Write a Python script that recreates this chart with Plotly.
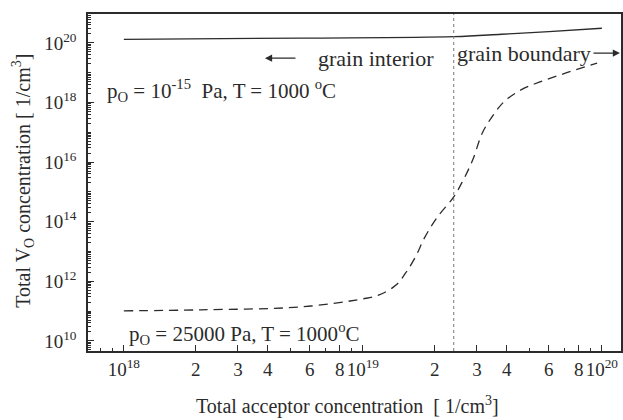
import plotly.graph_objects as go

# ---- data ----
acceptor_dashed = [1.0e18, 2.1e18, 5.5e18, 1.0e19, 1.17e19, 1.38e19, 1.51e19, 1.66e19,
                   1.82e19, 2.04e19, 2.40e19, 2.63e19, 2.88e19, 3.16e19, 3.47e19, 3.89e19,
                   4.57e19, 5.5e19, 7.08e19, 9.55e19]
vo_dashed = [1.02e11, 1.10e11, 1.38e11, 2.57e11, 3.47e11, 7.6e11, 1.9e12, 6.6e12,
             3.1e13, 1.35e14, 6.8e14, 2.5e15, 1.17e16, 9.5e16, 3.3e17, 1.05e18,
             2.6e18, 4.9e18, 9.8e18, 2.1e19]

acceptor_solid = [1.0e18, 5.5e18, 2.4e19, 3.8e19, 6.0e19, 1.0e20]
vo_solid = [1.32e20, 1.45e20, 1.62e20, 1.95e20, 2.4e20, 3.1e20]

boundary_x = 2.4e19

x_tickvals = [1e18, 2e18, 3e18, 4e18, 6e18, 8e18, 1e19, 2e19, 3e19, 4e19, 6e19, 8e19, 1e20]
x_ticktext = ["10<sup>18</sup>", "2", "3", "4", "6", "8", "10<sup>19</sup>",
              "2", "3", "4", "6", "8", "10<sup>20</sup>"]
y_tickvals = [1e10, 1e12, 1e14, 1e16, 1e18, 1e20]
y_ticktext = ["10<sup>10</sup>", "10<sup>12</sup>", "10<sup>14</sup>",
              "10<sup>16</sup>", "10<sup>18</sup>", "10<sup>20</sup>"]

x_title = "Total acceptor concentration  [ 1/cm<sup>3</sup>]"
y_title = "Total V<sub>O</sub> concentration [ 1/cm<sup>3</sup>]"

FONT = "Liberation Serif"
INK = "#2b2b2b"

fig = go.Figure()
fig.add_trace(go.Scatter(x=acceptor_solid, y=vo_solid, mode="lines",
                         line=dict(color=INK, width=1.3, shape="spline"),
                         showlegend=False))
fig.add_trace(go.Scatter(x=acceptor_dashed, y=vo_dashed, mode="lines",
                         line=dict(color=INK, width=1.3, dash="9px,6px", shape="spline"),
                         showlegend=False))

fig.add_shape(type="line", x0=boundary_x, x1=boundary_x, xref="x", y0=0, y1=1, yref="paper",
              line=dict(color="#777777", width=1, dash="dot"))

ann_font = dict(family=FONT, size=22, color=INK)
fig.add_annotation(xref="paper", yref="paper", x=0.428, y=0.869, xanchor="left", yanchor="middle",
                   text="grain interior", showarrow=False, font=ann_font)
fig.add_annotation(xref="paper", yref="paper", x=0.688, y=0.884, xanchor="left", yanchor="middle",
                   text="grain boundary", showarrow=False, font=ann_font)
# arrows
fig.add_annotation(xref="paper", yref="paper", x=0.332, y=0.869, ax=32, ay=0,
                   axref="pixel", ayref="pixel", text="", showarrow=True,
                   arrowhead=2, arrowsize=1.3, arrowwidth=1.1, arrowcolor=INK)
fig.add_annotation(xref="paper", yref="paper", x=0.998, y=0.884, ax=-28, ay=0,
                   axref="pixel", ayref="pixel", text="", showarrow=True,
                   arrowhead=2, arrowsize=1.3, arrowwidth=1.1, arrowcolor=INK)

fig.add_annotation(xref="paper", yref="paper", x=0.032, y=0.774, xanchor="left", yanchor="middle",
                   text="p<sub>O</sub> = 10<sup>-15</sup>  Pa, T = 1000 <sup>o</sup>C",
                   showarrow=False, font=dict(family=FONT, size=21, color=INK))
fig.add_annotation(xref="paper", yref="paper", x=0.073, y=0.053, xanchor="left", yanchor="middle",
                   text="p<sub>O</sub> = 25000 Pa, T = 1000<sup>o</sup>C",
                   showarrow=False, font=dict(family=FONT, size=21, color=INK))

# axis titles
fig.add_annotation(xref="paper", yref="paper", x=0.486, y=-0.163, xanchor="center", yanchor="middle",
                   text=x_title, showarrow=False, font=dict(family=FONT, size=20, color=INK))
fig.add_annotation(xref="paper", yref="paper", x=-0.122, y=0.505, xanchor="center", yanchor="middle",
                   text=y_title, textangle=-90, showarrow=False,
                   font=dict(family=FONT, size=20, color=INK))

fig.update_layout(
    width=623, height=420,
    margin=dict(l=88, r=2, t=14, b=69),
    paper_bgcolor="white", plot_bgcolor="white",
    font=dict(family=FONT, size=19, color=INK),
    xaxis=dict(type="log", range=[17.85, 20.08], tickvals=x_tickvals, ticktext=x_ticktext,
               tickangle=0, automargin=False,
               ticks="inside", ticklen=6, tickcolor=INK, showgrid=False, zeroline=False,
               showline=True, linecolor=INK, linewidth=1.5, mirror=True,
               ticklabelstandoff=0,
               minor=dict(ticks="inside", ticklen=3, tickcolor=INK, dtick="D1", showgrid=False)),
    yaxis=dict(type="log", range=[9.66, 20.97], tickvals=y_tickvals, ticktext=y_ticktext,
               automargin=False,
               ticks="inside", ticklen=6, tickcolor=INK, showgrid=False, zeroline=False,
               showline=True, linecolor=INK, linewidth=1.5, mirror=True,
               ticklabelstandoff=6,
               minor=dict(ticks="inside", ticklen=3, tickcolor=INK, dtick="D1", showgrid=False)),
)

fig.write_html("out.html")
